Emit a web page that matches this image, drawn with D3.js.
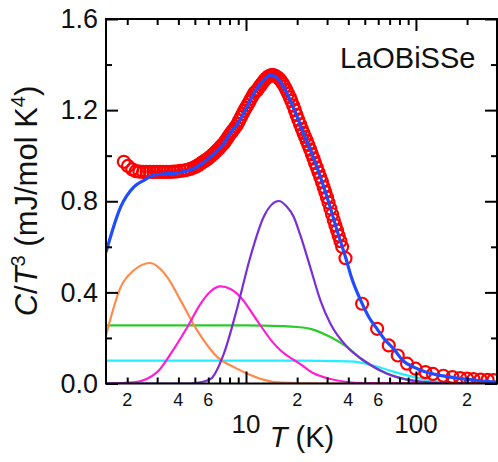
<!DOCTYPE html>
<html lang="en">
<head>
  <meta charset="UTF-8">
  <title>LaOBiSSe C/T3</title>
  <script src="https://cdn.jsdelivr.net/npm/d3@7/dist/d3.min.js"></script>
  <style>
    body { margin: 0; background: #fff; }
    svg { display: block; font-family: Arial, 'Liberation Sans', sans-serif; }
  </style>
</head>
<body>
  <div id="chart"></div>
  <script>
    // measured data (T in K, C/T^3 in mJ/mol K^4)
    const dataT = [1.91, 2.02, 2.14, 2.25, 2.36, 2.48, 2.6, 2.72, 2.85, 2.98, 3.12, 3.27, 3.42, 3.58, 3.75, 3.93, 4.11, 4.3, 4.5, 4.71,
      4.93, 5.16, 5.4, 5.65, 5.92, 6.19, 6.48, 6.79, 7.1, 7.43, 7.78, 8.15, 8.53, 8.93, 9.34, 9.78, 10.2, 10.7, 11.2, 11.7,
      12.3, 12.9, 13.5, 14.1, 14.7, 15.4, 16.2, 16.9, 17.7, 18.5, 19.4, 20.3, 21.3, 22.3, 23.3, 24.4, 25.5, 26.7, 28.0, 29.3,
      30.6, 32.1, 33.6, 35.1, 36.8, 38.5, 48.2, 59.1, 69.2, 78.2, 88.7, 99.6, 113.7, 126, 145, 164, 182, 200, 218, 240, 264, 286,
      5.04, 5.28, 5.52, 5.78, 6.05, 6.33, 6.63, 6.94, 7.26, 7.6, 7.96, 8.34, 8.73, 9.13, 9.56, 9.99, 10.45, 10.95, 11.45, 12.0,
      12.6, 13.2, 13.8, 14.4, 15.05, 15.8, 16.55, 17.3, 18.1, 18.95, 19.85, 20.8, 21.8, 22.8, 23.85, 24.95, 26.1, 27.35, 28.65, 29.95,
      31.35, 32.85, 34.35, 35.95];
    const dataV = [0.973, 0.955, 0.94, 0.932, 0.93, 0.929, 0.929, 0.929, 0.929, 0.929, 0.929, 0.929, 0.929, 0.929, 0.93, 0.931, 0.933, 0.935, 0.938, 0.942,
      0.948, 0.955, 0.965, 0.975, 0.985, 0.996, 1.01, 1.025, 1.04, 1.056, 1.078, 1.10, 1.118, 1.14, 1.17, 1.198, 1.222, 1.25, 1.276, 1.29,
      1.313, 1.333, 1.347, 1.354, 1.352, 1.343, 1.325, 1.303, 1.272, 1.24, 1.20, 1.158, 1.118, 1.082, 1.047, 1.007, 0.968, 0.927, 0.885, 0.84,
      0.794, 0.743, 0.694, 0.649, 0.6, 0.55, 0.35, 0.24, 0.167, 0.123, 0.087, 0.065, 0.05, 0.042, 0.034, 0.028, 0.024, 0.021, 0.019, 0.017, 0.016, 0.015,
      0.951, 0.96, 0.97, 0.98, 0.99, 1.003, 1.017, 1.032, 1.048, 1.067, 1.089, 1.109, 1.129, 1.155, 1.184, 1.21, 1.236, 1.263, 1.283, 1.302,
      1.323, 1.34, 1.351, 1.354, 1.348, 1.335, 1.315, 1.288, 1.256, 1.22, 1.179, 1.138, 1.1, 1.065, 1.027, 0.988, 0.948, 0.906, 0.862, 0.817,
      0.768, 0.718, 0.672, 0.625];

    // total fit (blue)
    const fitT = [1.5, 1.83, 2.19, 2.51, 2.88, 3.3, 3.76, 4.3, 4.94, 5.5, 6.18, 7.4, 8.1, 8.9, 10, 11.1, 12.5, 13.9, 15.2, 16.7, 18.3,
      20, 22, 24, 26.3, 28.7, 31.4, 34.4, 38.5, 42, 47.3, 53, 59, 66, 74, 84, 97, 113, 133, 160, 190, 240, 300];
    const fitV = [0.576, 0.775, 0.863, 0.892, 0.915, 0.92, 0.922, 0.93, 0.944, 0.965, 0.995, 1.054, 1.10, 1.14, 1.205, 1.273, 1.325, 1.354, 1.342, 1.30, 1.24,
      1.17, 1.09, 1.024, 0.945, 0.863, 0.77, 0.67, 0.555, 0.46, 0.365, 0.29, 0.24, 0.19, 0.152, 0.1, 0.072, 0.052, 0.038, 0.028, 0.02, 0.012, 0.006];

    // components
    const orangeT = [1.5, 1.83, 2.19, 2.72, 3.44, 4.12, 5.16, 6.78, 8.5, 10.2, 12.5, 14.8, 20, 30, 300];
    const orangeV = [0.21, 0.423, 0.497, 0.529, 0.467, 0.365, 0.233, 0.116, 0.072, 0.043, 0.018, 0.006, 0.002, 0, 0];
    const magentaT = [1.5, 2.19, 3.0, 3.6, 4.51, 5.4, 6.2, 7.08, 8.1, 9.3, 11.6, 14.6, 16, 20.9, 25, 31.4, 49, 300];
    const magentaV = [0, 0.005, 0.05, 0.13, 0.247, 0.35, 0.405, 0.426, 0.415, 0.379, 0.277, 0.175, 0.145, 0.085, 0.045, 0.02, 0.002, 0];
    const purpleT = [1.5, 4.7, 5.4, 6.2, 7.4, 8.9, 10.6, 12.7, 15.6, 17.2, 19.1, 20.9, 23.9, 27.4, 31.4, 39.4, 49.3, 67.6, 97, 150, 300];
    const purpleV = [0, 0, 0.005, 0.02, 0.13, 0.335, 0.555, 0.731, 0.801, 0.78, 0.731, 0.65, 0.51, 0.365, 0.262, 0.16, 0.101, 0.043, 0.013, 0.002, 0];
    const greenT = [1.5, 10, 16, 20, 24, 31.4, 39.4, 49, 61.6, 77.5, 106, 150, 300];
    const greenV = [0.255, 0.255, 0.252, 0.248, 0.24, 0.204, 0.16, 0.10, 0.057, 0.028, 0.006, 0.001, 0];
    const cyanT = [1.5, 20, 40, 47.3, 61.6, 74, 84.5, 100, 121, 150, 190, 300];
    const cyanV = [0.1, 0.1, 0.097, 0.092, 0.07, 0.052, 0.04, 0.026, 0.013, 0.006, 0.002, 0];

    const yTicks = [0, 0.4, 0.8, 1.2, 1.6];
    const yMinor = [0.2, 0.6, 1.0, 1.4];
    const xMajor = [10, 100];
    const xMinor = [2, 3, 4, 5, 6, 7, 8, 9, 20, 30, 40, 50, 60, 70, 80, 90, 200, 300];
    const xMinorLabels = [2, 4, 6, 20, 40, 60, 200];

    const W = 498, H = 462;
    const m = { left: 106, right: 497, top: 19, bottom: 383.5 };

    const svg = d3.select('#chart').append('svg')
      .attr('width', W).attr('height', H);

    const x = d3.scaleLog().domain([1.5, 300]).range([m.left, m.right]);
    const y = d3.scaleLinear().domain([0, 1.6]).range([m.bottom, m.top]);

    const zip = (a, b) => a.map((t, i) => [t, b[i]]);
    const line = d3.line().x(d => x(d[0])).y(d => y(d[1])).curve(d3.curveMonotoneX);

    svg.append('defs').append('clipPath').attr('id', 'clip')
      .append('rect').attr('x', m.left).attr('y', m.top)
      .attr('width', m.right - m.left).attr('height', m.bottom - m.top);

    const plot = svg.append('g').attr('clip-path', 'url(#clip)');

    const comps = [
      [cyanT, cyanV, '#22eeff'],
      [greenT, greenV, '#2ccb2c'],
      [orangeT, orangeV, '#ff8a4c'],
      [magentaT, magentaV, '#ff1ed6'],
      [purpleT, purpleV, '#7a2ed8']
    ];
    comps.forEach(c => {
      plot.append('path')
        .attr('d', line(zip(c[0], c[1])))
        .attr('fill', 'none')
        .attr('stroke', c[2])
        .attr('stroke-width', 2.2);
    });

    // data circles
    plot.selectAll('circle')
      .data(zip(dataT, dataV))
      .enter()
      .append('circle')
      .attr('cx', d => x(d[0]))
      .attr('cy', d => y(d[1]))
      .attr('r', 6)
      .attr('fill', 'none')
      .attr('stroke', '#ff0000')
      .attr('stroke-width', 2.2);

    // total fit
    plot.append('path')
      .attr('d', line(zip(fitT, fitV)))
      .attr('fill', 'none')
      .attr('stroke', '#1f4cff')
      .attr('stroke-width', 3.2);

    // axes (ticks point inward)
    const addAxis = (gen, tx, ty) => {
      const g = svg.append('g').attr('transform', `translate(${tx},${ty})`).call(gen);
      g.select('.domain').remove();
      g.selectAll('line').attr('stroke', '#000').attr('stroke-width', 2);
      return g;
    };
    addAxis(d3.axisBottom(x).tickValues(xMinor).tickSize(-6).tickFormat(''), 0, m.bottom);
    addAxis(d3.axisBottom(x).tickValues(xMajor).tickSize(-12).tickFormat(''), 0, m.bottom);
    addAxis(d3.axisTop(x).tickValues(xMinor).tickSize(-6).tickFormat(''), 0, m.top);
    addAxis(d3.axisTop(x).tickValues(xMajor).tickSize(-12).tickFormat(''), 0, m.top);
    addAxis(d3.axisRight(y).tickValues(yMinor).tickSize(-6).tickFormat(''), m.right, 0);
    addAxis(d3.axisRight(y).tickValues(yTicks).tickSize(-12).tickFormat(''), m.right, 0);
    addAxis(d3.axisLeft(y).tickValues(yMinor).tickSize(-6).tickFormat(''), m.left, 0);
    const yAx = addAxis(d3.axisLeft(y).tickValues(yTicks).tickSize(-12).tickPadding(8).tickFormat(d3.format('.1f')), m.left, 0);
    yAx.selectAll('text')
      .attr('font-size', '27px')
      .attr('font-family', 'Arial, Liberation Sans, sans-serif')
      .attr('fill', '#111');

    // frame
    svg.append('rect')
      .attr('x', m.left).attr('y', m.top)
      .attr('width', m.right - m.left).attr('height', m.bottom - m.top)
      .attr('fill', 'none').attr('stroke', '#000').attr('stroke-width', 2);

    // x labels
    svg.append('g').selectAll('text')
      .data(xMinorLabels)
      .enter()
      .append('text')
      .attr('x', d => x(d))
      .attr('y', 406)
      .attr('text-anchor', 'middle')
      .attr('font-size', '18px')
      .attr('fill', '#111')
      .text(d => String(d)[0]);
    svg.append('g').selectAll('text')
      .data(xMajor)
      .enter()
      .append('text')
      .attr('x', d => x(d))
      .attr('y', 433)
      .attr('text-anchor', 'middle')
      .attr('font-size', '26px')
      .attr('fill', '#111')
      .text(d => d);

    const xl = svg.append('text')
      .attr('x', 302).attr('y', 447)
      .attr('text-anchor', 'middle')
      .attr('font-size', '29px')
      .attr('fill', '#111');
    xl.append('tspan').attr('font-style', 'italic').text('T');
    xl.append('tspan').text(' (K)');

    // y label
    const yl = svg.append('text')
      .attr('transform', 'translate(37,201) rotate(-90)')
      .attr('text-anchor', 'middle')
      .attr('font-size', '31px')
      .attr('fill', '#111');
    yl.append('tspan').attr('font-style', 'italic').text('C');
    yl.append('tspan').text('/');
    yl.append('tspan').attr('font-style', 'italic').text('T');
    yl.append('tspan').attr('font-size', '20px').attr('dy', -12).text('3');
    yl.append('tspan').attr('dy', 12).text(' (mJ/mol K');
    yl.append('tspan').attr('font-size', '20px').attr('dy', -12).text('4');
    yl.append('tspan').attr('dy', 12).text(')');

    svg.append('text')
      .attr('x', 340).attr('y', 68)
      .attr('font-size', '29px')
      .attr('fill', '#111')
      .text('LaOBiSSe');
  </script>
</body>
</html>
